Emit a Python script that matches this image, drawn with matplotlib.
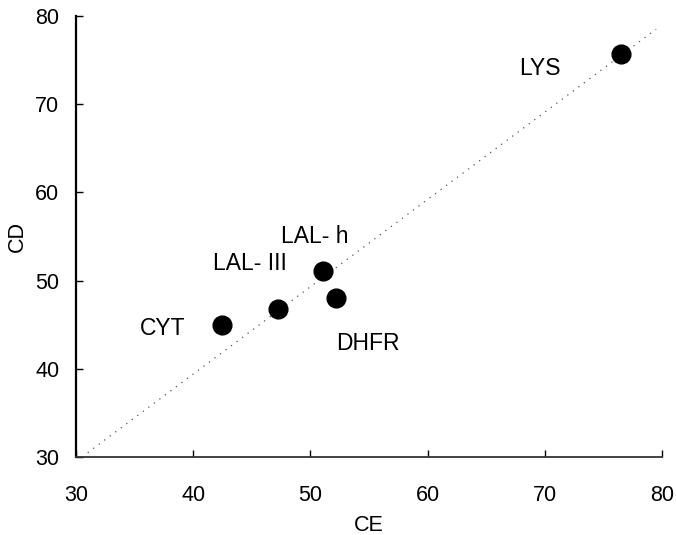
import matplotlib
matplotlib.use("Agg")
import matplotlib.pyplot as plt
import numpy as np

plt.rcParams['font.family'] = ['Liberation Sans', 'DejaVu Sans']

# protein estimates: CE (x) vs CD (y)
proteins = ['LYS', 'CYT', 'LAL- III', 'LAL- h', 'DHFR']
ce = [76.5, 42.5, 47.2, 51.1, 52.2]
cd = [75.7, 45.0, 46.8, 51.1, 48.0]

# label positions for each protein (data coords)
label_x = [69.6, 37.4, 44.8, 50.4, 54.9]
label_y = [74.1, 44.6, 51.9, 55.0, 42.9]

# correlation line
fit_slope = 0.99
fit_intercept = -0.2
fit_range = [31.0, 79.5]

fig = plt.figure(figsize=(6.76, 5.35), dpi=100)
ax = fig.add_axes([0.1124, 0.1458, 0.8669, 0.8243])

xs = np.array(fit_range)
ax.plot(xs, fit_slope * xs + fit_intercept, color='#555555', lw=0.9,
        linestyle=(0, (1, 4.5)))
ax.plot(ce, cd, 'o', color='black', markersize=13.5, zorder=3)

for name, lx, ly in zip(proteins, label_x, label_y):
    ax.text(lx, ly, name, fontsize=16.5, ha='center', va='center')

ax.set_xlim(30, 80)
ax.set_ylim(30, 80)
ax.set_xticks([30, 40, 50, 60, 70, 80])
ax.set_yticks([30, 40, 50, 60, 70, 80])
ax.tick_params(direction='in', length=5, width=1, labelsize=15.5)
ax.tick_params(axis='x', pad=20)
ax.tick_params(axis='y', pad=12)

ax.spines['top'].set_visible(False)
ax.spines['right'].set_visible(False)
ax.spines['left'].set_linewidth(1.6)
ax.spines['bottom'].set_linewidth(1.3)
ax.spines['bottom'].set_color('#333333')

ax.set_xlabel('CE', fontsize=15.5, labelpad=7)
ax.set_ylabel('CD', fontsize=15.5, labelpad=5)

fig.savefig('out.png', dpi=100)
